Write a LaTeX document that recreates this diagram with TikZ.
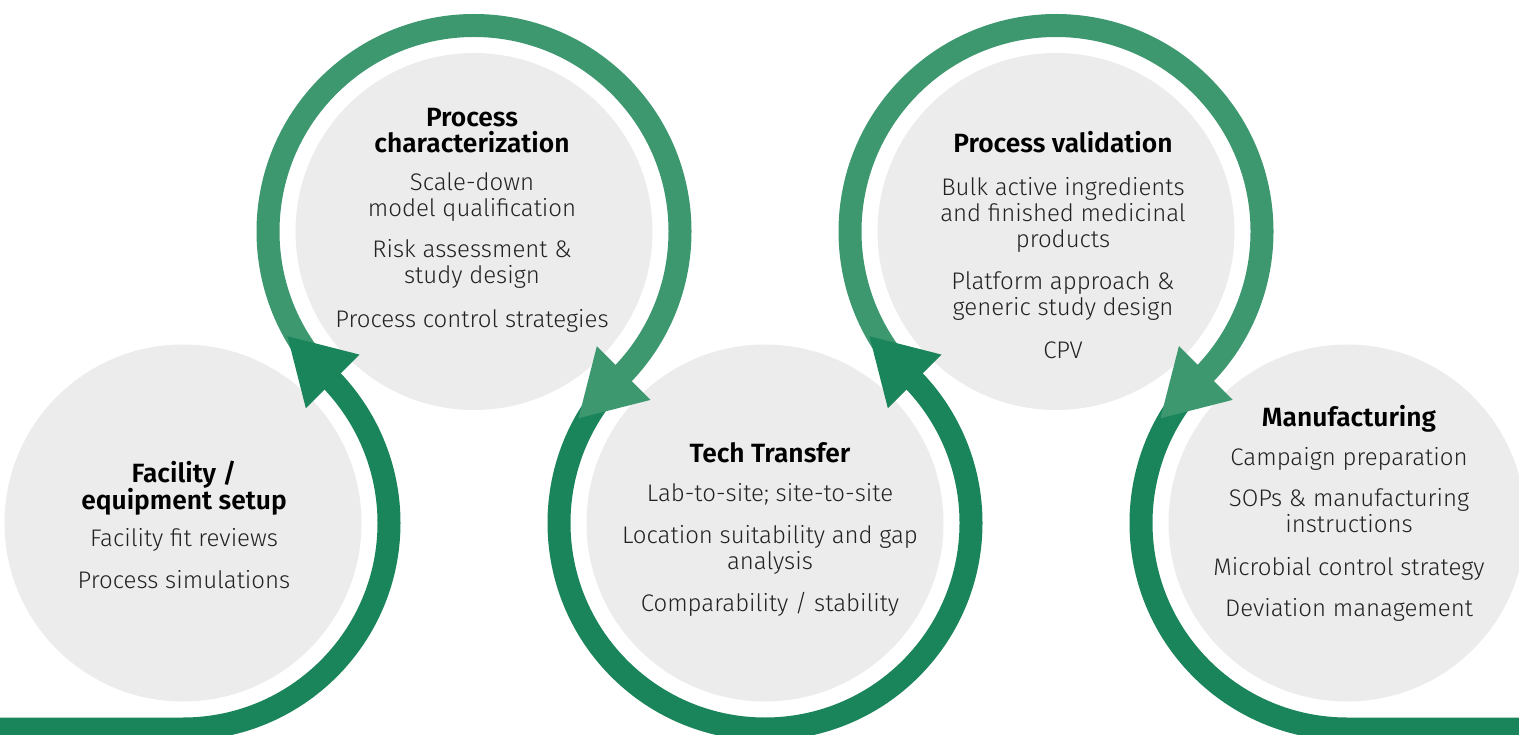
\documentclass[tikz,border=0pt]{standalone}
\usepackage{fontspec}
\usetikzlibrary{calc}
\setmainfont{Fira Sans}[UprightFont={* Light},BoldFont={* SemiBold}]
\definecolor{darkg}{RGB}{26,132,90}
\definecolor{lightg}{RGB}{61,152,112}
\definecolor{disc}{RGB}{236,236,236}
\definecolor{txt}{RGB}{34,34,34}
\begin{document}
\begin{tikzpicture}[x=0.5pt,y=0.5pt,
  disk/.style={circle,fill=disc,minimum size=178.5pt,inner sep=0pt},
  ring/.style={line width=11.5pt},
  body/.style={anchor=base,text=txt,font=\fontsize{12}{13}\selectfont,inner sep=0pt},
  ttl/.style={anchor=base,text=black,font=\fontsize{13.2}{13}\selectfont\bfseries,inner sep=0pt}]
\useasboundingbox (0,0) rectangle (1519,734);
% discs
\node[disk] (c1) at (183,211) {};
\node[disk] (c2) at (474,502.5) {};
\node[disk] (c3) at (765,211) {};
\node[disk] (c4) at (1056,502.5) {};
\node[disk] (c5) at (1347,211) {};
% junctions
\coordinate (j12) at ($(c1)!0.5!(c2)$);
\coordinate (j23) at ($(c2)!0.5!(c3)$);
\coordinate (j34) at ($(c3)!0.5!(c4)$);
\coordinate (j45) at ($(c4)!0.5!(c5)$);
\coordinate (l0) at (0,5);
\coordinate (r0) at (1519,5);
% rings
\draw[ring,darkg] (l0) -- ([shift={(-90:103pt)}]c1.center) arc[start angle=-90,end angle=45,radius=103pt];
\draw[ring,lightg] ([shift={(225:103pt)}]c2.center) arc[start angle=225,end angle=-45,radius=103pt];
\draw[ring,darkg] ([shift={(135:103pt)}]c3.center) arc[start angle=135,end angle=405,radius=103pt];
\draw[ring,lightg] ([shift={(225:103pt)}]c4.center) arc[start angle=225,end angle=-45,radius=103pt];
\draw[ring,darkg] ([shift={(135:103pt)}]c5.center) arc[start angle=135,end angle=270,radius=103pt] -- (r0);
% arrowheads
\fill[darkg,shift={(j12)},rotate=135] (-3pt,19pt) -- (29pt,0pt) -- (-3pt,-19pt) -- cycle;
\fill[lightg,shift={(j23)},rotate=-135] (-3pt,19pt) -- (29pt,0pt) -- (-3pt,-19pt) -- cycle;
\fill[darkg,shift={(j34)},rotate=135] (-3pt,19pt) -- (29pt,0pt) -- (-3pt,-19pt) -- cycle;
\fill[lightg,shift={(j45)},rotate=-135] (-3pt,19pt) -- (29pt,0pt) -- (-3pt,-19pt) -- cycle;
% texts circle 1
\node[ttl] (a1) at (184,252) {Facility /};
\node[ttl] (a2) at (184,225) {equipment setup};
\node[body] (a3) at (184,188) {Facility fit reviews};
\node[body] (a4) at (184,146) {Process simulations};
% circle 2
\node[ttl] (b1) at (472,607) {Process};
\node[ttl] (b2) at (472,581) {characterization};
\node[body] (b3) at (472,543) {Scale-down};
\node[body] (b4) at (472,517) {model qualification};
\node[body] (b5) at (472,476) {Risk assessment \&};
\node[body] (b6) at (472,450) {study design};
\node[body] (b7) at (472,406) {Process control strategies};
% circle 3
\node[ttl] (d1) at (770,271) {Tech Transfer};
\node[body] (d2) at (770,233) {Lab-to-site; site-to-site};
\node[body] (d3) at (770,191) {Location suitability and gap};
\node[body] (d4) at (770,165) {analysis};
\node[body] (d5) at (770,123) {Comparability / stability};
% circle 4
\node[ttl] (e1) at (1063,581) {Process validation};
\node[body] (e2) at (1063,538) {Bulk active ingredients};
\node[body] (e3) at (1063,512) {and finished medicinal};
\node[body] (e4) at (1063,486) {products};
\node[body] (e5) at (1063,444) {Platform approach \&};
\node[body] (e6) at (1063,418) {generic study design};
\node[body] (e7) at (1063,375) {CPV};
% circle 5
\node[ttl] (f1) at (1349,307) {Manufacturing};
\node[body] (f2) at (1349,269) {Campaign preparation};
\node[body] (f3) at (1349,228) {SOPs \& manufacturing};
\node[body] (f4) at (1349,202) {instructions};
\node[body] (f5) at (1349,159) {Microbial control strategy};
\node[body] (f6) at (1349,118) {Deviation management};
\end{tikzpicture}
\end{document}
